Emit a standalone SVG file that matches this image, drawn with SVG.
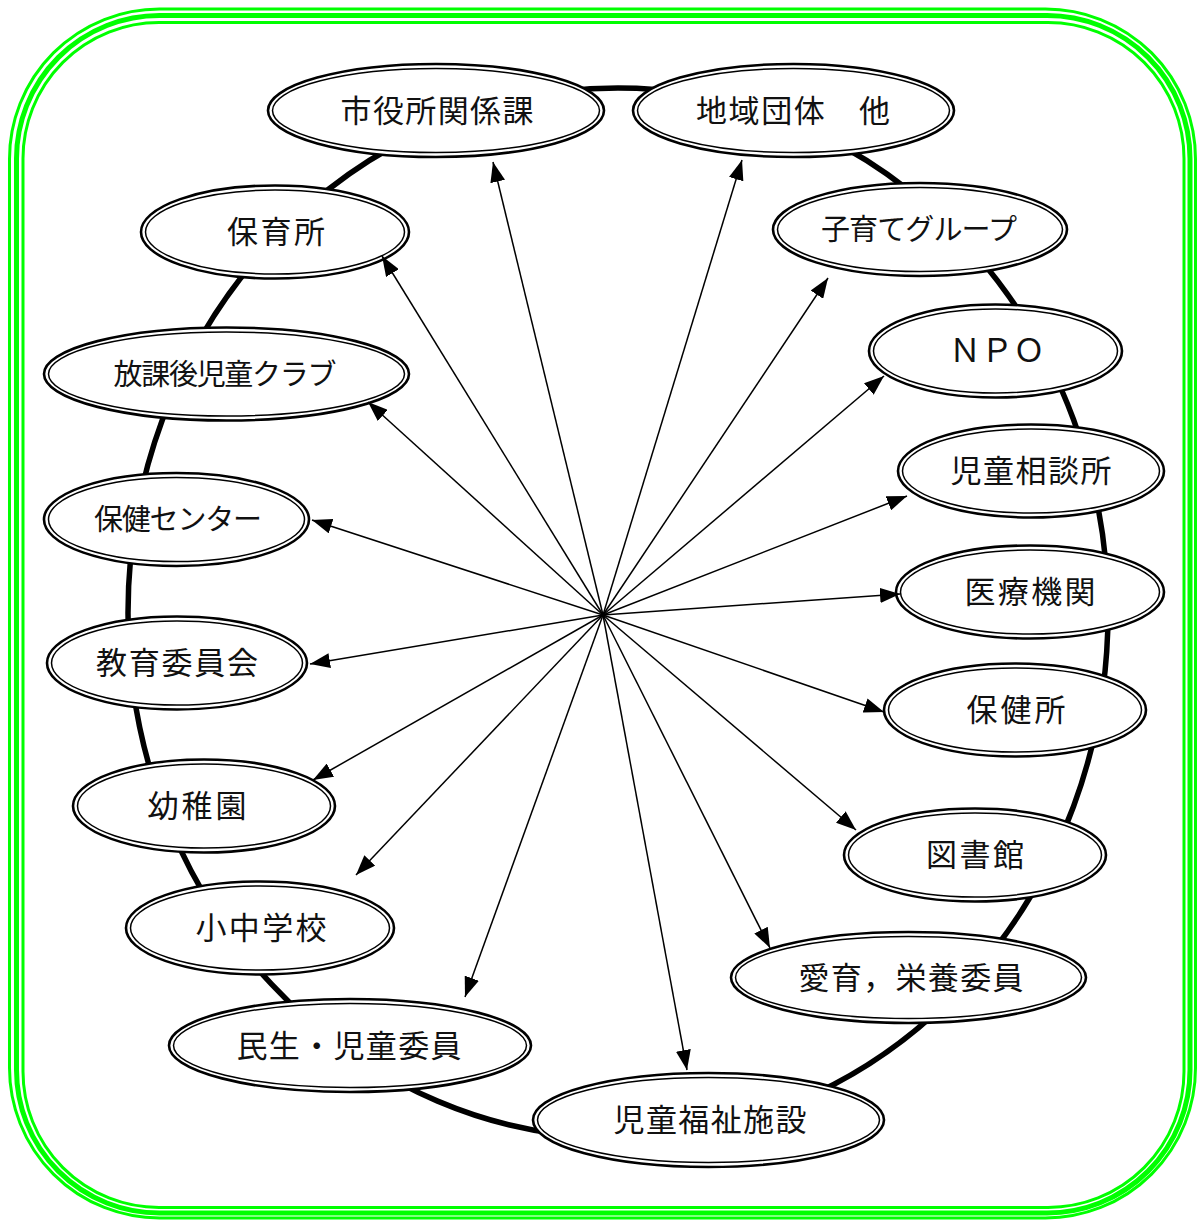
<svg xmlns="http://www.w3.org/2000/svg" width="1198" height="1220" viewBox="0 0 1198 1220">
<style>
.frame{fill:none;stroke:#00ff00}
.ring{fill:none;stroke:#000;stroke-width:5.5}
.eo{fill:#fff;stroke:#000;stroke-width:2.6}
.ei{fill:none;stroke:#000;stroke-width:1.5}
.t{font-family:"Noto Sans CJK JP","Noto Sans",sans-serif;font-size:31px;fill:#111;text-anchor:middle}
.s{font-size:29px}
.arr line{stroke:#000;stroke-width:1.5;marker-end:url(#ah)}
</style>
<defs>
<marker id="ah" viewBox="0 0 20 15" refX="20" refY="7.5" markerWidth="20" markerHeight="15" markerUnits="userSpaceOnUse" orient="auto">
<path d="M0,0 L20,7.5 L0,15 z" fill="#000"/>
</marker>
</defs>
<rect fill="#fff" x="0" y="0" width="1198" height="1220"/>
<g id="frame">
<rect class="frame" x="9.5" y="9" width="1186" height="1209" rx="150" ry="150" stroke-width="3"/>
<rect class="frame" x="16.5" y="15.5" width="1173.5" height="1197.5" rx="143" ry="143" stroke-width="5"/>
<rect class="frame" x="23" y="22.5" width="1161" height="1185" rx="136" ry="136" stroke-width="3"/>
</g>
<ellipse id="ring" class="ring" cx="618" cy="613" rx="490" ry="525"/>
<g id="n1"><ellipse class="eo" cx="436" cy="110.5" rx="168" ry="46.5"/><ellipse class="ei" cx="436" cy="110.5" rx="163.5" ry="42"/><text class="t" x="437" y="122" textLength="193">市役所関係課</text></g>
<g id="n2"><ellipse class="eo" cx="793.5" cy="110.5" rx="160.5" ry="46.5"/><ellipse class="ei" cx="793.5" cy="110.5" rx="156" ry="42"/><text class="t" x="793" y="122" textLength="194">地域団体　他</text></g>
<g id="n3"><ellipse class="eo" cx="920" cy="229.5" rx="147" ry="46.5"/><ellipse class="ei" cx="920" cy="229.5" rx="142.5" ry="42"/><text class="t s" x="919" y="240" textLength="196">子育てグループ</text></g>
<g id="n4"><ellipse class="eo" cx="995.5" cy="351" rx="126.5" ry="46.5"/><ellipse class="ei" cx="995.5" cy="351" rx="122" ry="42"/><text class="t" x="997" y="362" style="font-size:32px">ＮＰＯ</text></g>
<g id="n5"><ellipse class="eo" cx="1031" cy="471" rx="133" ry="46.5"/><ellipse class="ei" cx="1031" cy="471" rx="128.5" ry="42"/><text class="t" x="1031" y="482" textLength="161">児童相談所</text></g>
<g id="n6"><ellipse class="eo" cx="1030" cy="592" rx="134" ry="46.5"/><ellipse class="ei" cx="1030" cy="592" rx="129.5" ry="42"/><text class="t" x="1030" y="603" textLength="131">医療機関</text></g>
<g id="n7"><ellipse class="eo" cx="1015" cy="710" rx="131" ry="46.5"/><ellipse class="ei" cx="1015" cy="710" rx="126.5" ry="42"/><text class="t" x="1016" y="721" textLength="99">保健所</text></g>
<g id="n8"><ellipse class="eo" cx="975" cy="855" rx="131" ry="46.5"/><ellipse class="ei" cx="975" cy="855" rx="126.5" ry="42"/><text class="t" x="975" y="866" textLength="98">図書館</text></g>
<g id="n9"><ellipse class="eo" cx="908.5" cy="977.5" rx="177.5" ry="45.5"/><ellipse class="ei" cx="908.5" cy="977.5" rx="173" ry="41"/><text class="t" x="911" y="989" textLength="225">愛育，栄養委員</text></g>
<g id="n10"><ellipse class="eo" cx="708.5" cy="1120" rx="175.5" ry="47"/><ellipse class="ei" cx="708.5" cy="1120" rx="171" ry="42.5"/><text class="t" x="710" y="1131" textLength="193">児童福祉施設</text></g>
<g id="n11"><ellipse class="eo" cx="350" cy="1045.5" rx="181" ry="46.5"/><ellipse class="ei" cx="350" cy="1045.5" rx="176.5" ry="42"/><text class="t" x="349" y="1057" textLength="225">民生・児童委員</text></g>
<g id="n12"><ellipse class="eo" cx="260" cy="928" rx="134" ry="46.5"/><ellipse class="ei" cx="260" cy="928" rx="129.5" ry="42"/><text class="t" x="261" y="939" textLength="131">小中学校</text></g>
<g id="n13"><ellipse class="eo" cx="204" cy="806" rx="131" ry="46.5"/><ellipse class="ei" cx="204" cy="806" rx="126.5" ry="42"/><text class="t" x="197" y="817" textLength="99">幼稚園</text></g>
<g id="n14"><ellipse class="eo" cx="177" cy="663" rx="130" ry="46.5"/><ellipse class="ei" cx="177" cy="663" rx="125.5" ry="42"/><text class="t" x="177" y="674" textLength="162">教育委員会</text></g>
<g id="n15"><ellipse class="eo" cx="176.5" cy="519.5" rx="132.5" ry="46.5"/><ellipse class="ei" cx="176.5" cy="519.5" rx="128" ry="42"/><text class="t s" x="178" y="530" textLength="168">保健センター</text></g>
<g id="n16"><ellipse class="eo" cx="226.5" cy="374" rx="182.5" ry="46.5"/><ellipse class="ei" cx="226.5" cy="374" rx="178" ry="42"/><text class="t s" x="225" y="385" textLength="223">放課後児童クラブ</text></g>
<g id="n17"><ellipse class="eo" cx="275" cy="232" rx="134" ry="46.5"/><ellipse class="ei" cx="275" cy="232" rx="129.5" ry="42"/><text class="t" x="276" y="243" textLength="98">保育所</text></g>
<g id="connectors" class="arr">
<line x1="603" y1="615" x2="493" y2="162"/>
<line x1="603" y1="615" x2="742" y2="160"/>
<line x1="603" y1="615" x2="828" y2="278"/>
<line x1="603" y1="615" x2="884" y2="376"/>
<line x1="603" y1="615" x2="907" y2="496"/>
<line x1="603" y1="615" x2="900" y2="594"/>
<line x1="603" y1="615" x2="884" y2="712"/>
<line x1="603" y1="615" x2="856" y2="830"/>
<line x1="603" y1="615" x2="770" y2="948"/>
<line x1="603" y1="615" x2="687" y2="1070"/>
<line x1="603" y1="615" x2="465" y2="997"/>
<line x1="603" y1="615" x2="356" y2="875"/>
<line x1="603" y1="615" x2="313" y2="780"/>
<line x1="603" y1="615" x2="310" y2="664"/>
<line x1="603" y1="615" x2="312" y2="520"/>
<line x1="603" y1="615" x2="368" y2="402"/>
<line x1="603" y1="615" x2="382" y2="256"/>
</g>
</svg>
